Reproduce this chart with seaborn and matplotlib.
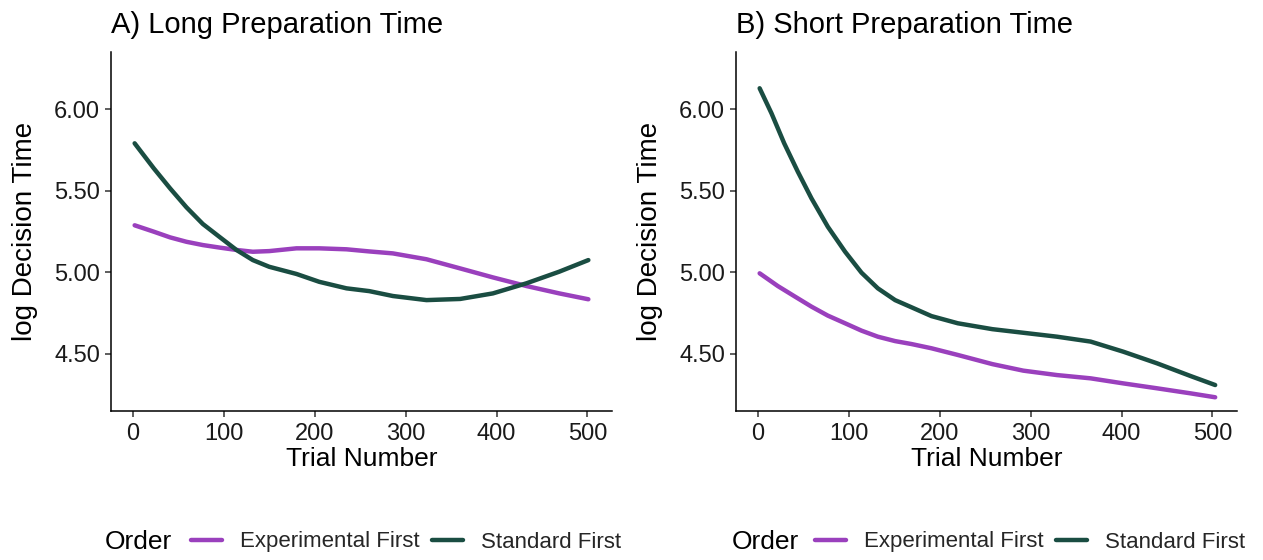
import numpy as np
import pandas as pd
import matplotlib
matplotlib.use("Agg")
import matplotlib.pyplot as plt
from matplotlib.lines import Line2D
import seaborn as sns

# ---- data ----
long_std_trial = [2, 23, 41, 59, 77, 96, 114, 132, 150, 180, 205, 235, 260, 286, 323, 360,
                  396, 433, 469, 501]
long_std_val = [5.790, 5.637, 5.514, 5.398, 5.296, 5.214, 5.137, 5.075, 5.034, 4.990, 4.942,
                4.902, 4.885, 4.855, 4.830, 4.837, 4.871, 4.933, 5.004, 5.075]
long_exp_trial = [2, 23, 41, 59, 77, 96, 114, 132, 150, 180, 205, 235, 260, 286, 323, 360,
                  396, 433, 469, 501]
long_exp_val = [5.288, 5.249, 5.214, 5.187, 5.167, 5.151, 5.137, 5.126, 5.130, 5.147, 5.147,
                5.141, 5.128, 5.116, 5.080, 5.024, 4.969, 4.916, 4.871, 4.835]

short_std_trial = [2, 15, 29, 44, 59, 77, 96, 114, 132, 151, 169, 191, 220, 258, 292, 329,
                   366, 402, 439, 476, 503]
short_std_val = [6.127, 5.974, 5.790, 5.616, 5.453, 5.279, 5.126, 4.998, 4.902, 4.830, 4.786,
                 4.732, 4.688, 4.652, 4.630, 4.606, 4.576, 4.514, 4.443, 4.365, 4.310]
short_exp_trial = [2, 22, 41, 59, 77, 96, 114, 132, 151, 169, 191, 220, 258, 292, 329, 366,
                   402, 439, 476, 503]
short_exp_val = [4.994, 4.916, 4.851, 4.790, 4.735, 4.688, 4.643, 4.606, 4.579, 4.561, 4.535,
                 4.494, 4.438, 4.398, 4.371, 4.351, 4.320, 4.290, 4.259, 4.235]

orders = ["Experimental First", "Standard First"]
titles = ["A) Long Preparation Time", "B) Short Preparation Time"]
x_ticks = [0, 100, 200, 300, 400, 500]
y_ticks = [4.5, 5.0, 5.5, 6.0]
colors = {"Experimental First": "#9A40BD", "Standard First": "#1A4D42"}


def make_df(exp_t, exp_v, std_t, std_v):
    return pd.concat([
        pd.DataFrame({"Trial": exp_t, "logDT": exp_v, "Order": orders[0]}),
        pd.DataFrame({"Trial": std_t, "logDT": std_v, "Order": orders[1]}),
    ], ignore_index=True)


dfs = [make_df(long_exp_trial, long_exp_val, long_std_trial, long_std_val),
       make_df(short_exp_trial, short_exp_val, short_std_trial, short_std_val)]

sns.set_theme(style="ticks")
plt.rcParams["font.family"] = ["Liberation Sans", "DejaVu Sans"]

W, H = 1263, 560
fig = plt.figure(figsize=(W / 100, H / 100), dpi=100)

ax_px = [(111, 52, 612, 411), (736, 52, 1237, 411)]
legend_px = [(105, 191), (732, 815)]

for i, (x0, y0, x1, y1) in enumerate(ax_px):
    ax = fig.add_axes([x0 / W, (H - y1) / H, (x1 - x0) / W, (y1 - y0) / H])
    sns.lineplot(data=dfs[i], x="Trial", y="logDT", hue="Order", hue_order=orders,
                 palette=colors, linewidth=3.2, legend=False, ax=ax, sort=True)
    ax.set_xlim(-24, 527)
    ax.set_ylim(4.151, 6.349)
    ax.set_xticks(x_ticks)
    ax.set_yticks(y_ticks)
    ax.set_yticklabels([f"{v:.2f}" for v in y_ticks])
    for s in ["top", "right"]:
        ax.spines[s].set_visible(False)
    for s in ["left", "bottom"]:
        ax.spines[s].set_color("black")
        ax.spines[s].set_linewidth(1.1)
    ax.tick_params(axis="both", direction="out", length=4, width=1.1, color="#333333",
                   labelsize=17, labelcolor="#1a1a1a")
    ax.tick_params(axis="x", pad=5)
    ax.tick_params(axis="y", pad=4)
    ax.set_xlabel("Trial Number", fontsize=19, color="black", labelpad=1)
    ax.set_ylabel("log Decision Time", fontsize=20, color="black")
    ax.yaxis.set_label_coords(-0.145, 0.5)
    ax.grid(False)
    ax.text(0, (y1 - 33) / (y1 - y0), titles[i], transform=ax.transAxes, fontsize=21,
            ha="left", va="baseline", color="black")

    # legend
    ox, lx = legend_px[i]
    fig.text(ox / W, 1 - 542 / H, "Order", fontsize=19, va="center", ha="left", color="black")
    handles = [Line2D([0], [0], color=colors[o], lw=3.2) for o in orders]
    fig.legend(handles, orders, loc="center left", bbox_to_anchor=(lx / W, 1 - 542 / H),
               ncol=2, frameon=False, fontsize=16, handlelength=1.4, handletextpad=0.8,
               columnspacing=0.55, borderpad=0, borderaxespad=0)

fig.savefig("out.png", dpi=100, facecolor="white")
